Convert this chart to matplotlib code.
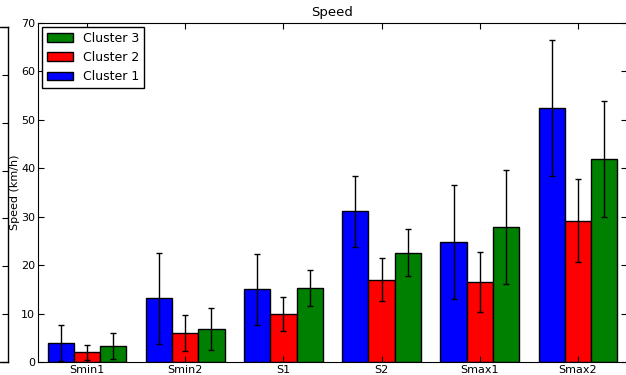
import matplotlib
matplotlib.use("Agg")
import matplotlib.pyplot as plt
import numpy as np

categories = ["Smin1", "Smin2", "S1", "S2", "Smax1", "Smax2"]
cluster1 = [3.9, 13.2, 15.0, 31.1, 24.8, 52.4]
cluster1_err = [3.7, 9.4, 7.4, 7.4, 11.8, 14.0]
cluster2 = [2.0, 6.0, 9.9, 17.0, 16.5, 29.2]
cluster2_err = [1.5, 3.8, 3.5, 4.5, 6.2, 8.5]
cluster3 = [3.3, 6.8, 15.3, 22.6, 27.9, 41.9]
cluster3_err = [2.7, 4.3, 3.8, 4.8, 11.7, 12.0]

series = [
    ("Cluster 1", cluster1, cluster1_err, "blue"),
    ("Cluster 2", cluster2, cluster2_err, "red"),
    ("Cluster 3", cluster3, cluster3_err, "green"),
]

plt.rcParams["font.family"] = "DejaVu Sans"

fig = plt.figure(figsize=(6.26, 3.75), dpi=100)

# neighbouring subplot, mostly cut off on the left
ax_left = fig.add_axes([-0.4, 13 / 375, 0.4 + 8 / 626, 335 / 375])
ax_left.set_xlim(0, 1)
ax_left.set_ylim(0, 70)
ax_left.set_yticks(np.arange(0, 71, 10))
ax_left.set_xticks([])
ax_left.tick_params(axis="y", direction="in", length=4, left=False, right=True,
                    labelleft=False, labelright=False)
for sp in ax_left.spines.values():
    sp.set_linewidth(1.0)

ax = fig.add_axes([38 / 626, 13 / 375, 589 / 626, 339 / 375])
width = 0.8 / 3
x = np.arange(len(categories))
for i, (label, vals, errs, color) in enumerate(series):
    ax.bar(x + 0.1 + i * width, vals, width, align="edge", color=color,
           edgecolor="black", linewidth=1.0, label=label)
    ax.errorbar(x + 0.1 + (i + 0.5) * width, vals, yerr=errs, fmt="none",
                ecolor="black", elinewidth=1.0, capsize=2, capthick=1.0)

ax.set_xlim(0, len(categories))
ax.set_ylim(0, 70)
ax.set_xticks(x + 0.5)
ax.set_xticklabels(categories, fontsize=8)
ax.set_yticks(np.arange(0, 71, 10))
ax.tick_params(axis="both", direction="in", length=4, top=True, right=True, labelsize=8, pad=2)
ax.set_ylabel("Speed (km/h)", fontsize=8, labelpad=0.5)
ax.set_title("Speed", fontsize=9.5, pad=5)

handles, labels = ax.get_legend_handles_labels()
leg = ax.legend(handles[::-1], labels[::-1], loc="upper left", fontsize=9,
                fancybox=False, framealpha=1, edgecolor="black",
                handlelength=2.1, handleheight=0.7, handletextpad=0.8,
                borderaxespad=0.35, labelspacing=0.5, borderpad=0.35)
leg.get_frame().set_linewidth(1.0)

fig.savefig("out.png", dpi=100)
